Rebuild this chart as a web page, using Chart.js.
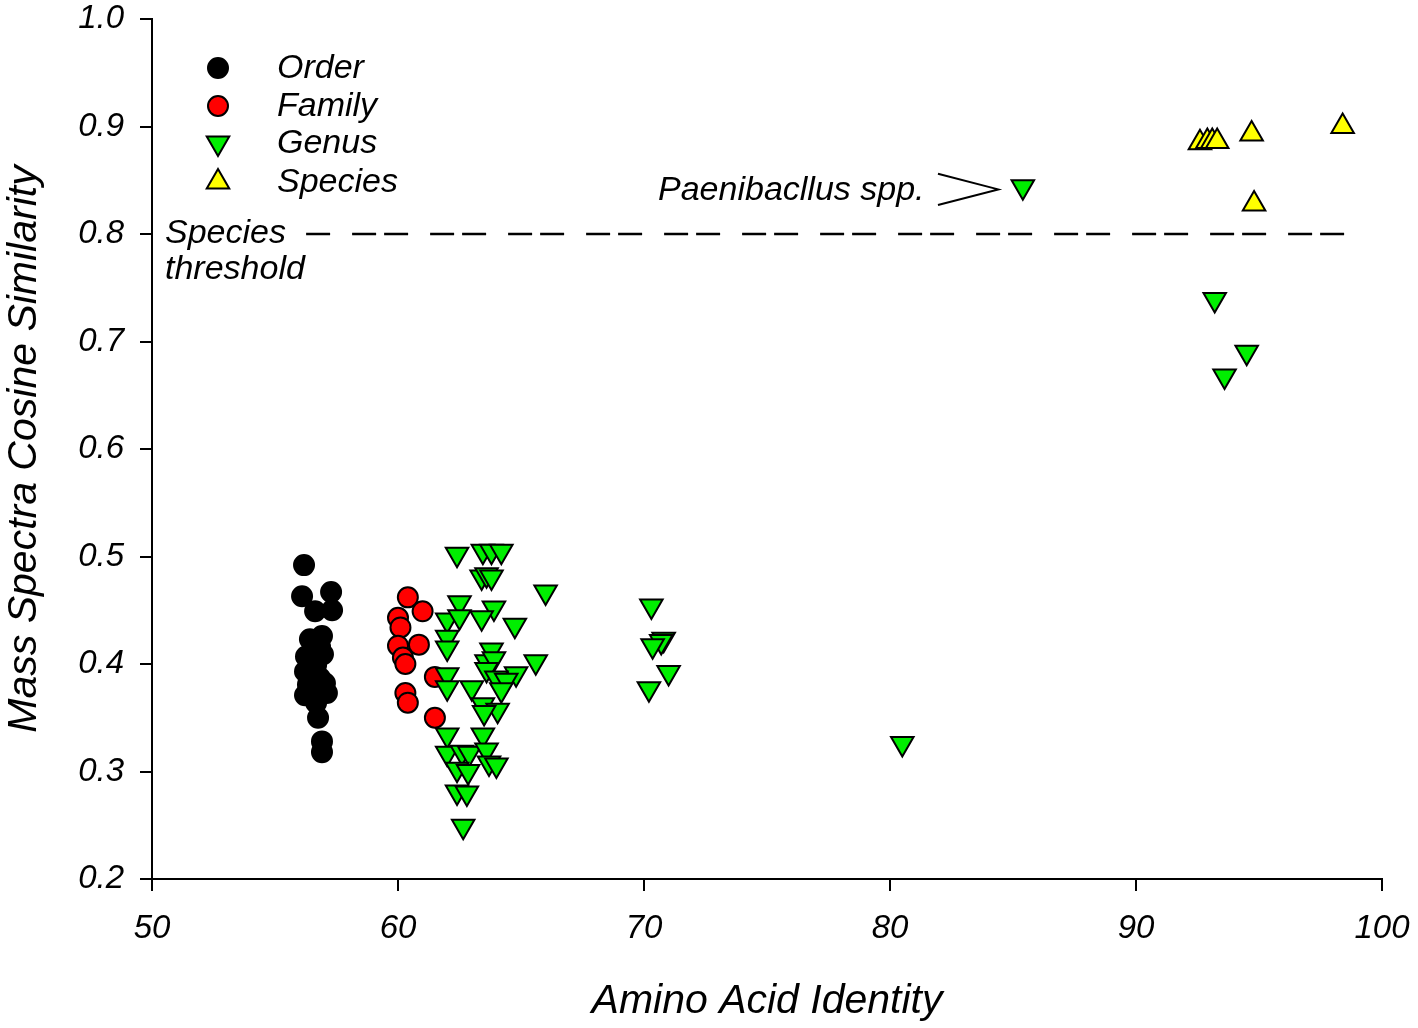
<!DOCTYPE html>
<html lang="en">
<head>
    <meta charset="UTF-8">
    <title>Mass Spectra Cosine Similarity vs Amino Acid Identity</title>
    <style>
        html, body { margin: 0; padding: 0; background: #fff; }
        #wrap { width: 1418px; height: 1028px; }
    </style>
</head>
<body>
<div id="wrap">
    <canvas id="aaiChart" width="1418" height="1028"></canvas>
</div>

<script src="https://cdn.jsdelivr.net/npm/chart.js"></script>
<script>
    // Order (black circles)
    const orderAAI = [56.18, 56.10, 57.28, 57.32, 56.63, 56.91, 56.42, 56.83, 56.95, 56.26, 56.67, 56.22, 56.83,
                      57.03, 56.34, 57.11, 56.22, 56.75, 56.67, 56.75, 56.91, 56.91];
    const orderCos = [0.492, 0.463, 0.467, 0.450, 0.449, 0.426, 0.423, 0.416, 0.409, 0.407, 0.399, 0.393, 0.387,
                      0.382, 0.381, 0.373, 0.371, 0.376, 0.364, 0.350, 0.328, 0.318];

    // Family (red circles)
    const familyAAI = [60.4, 61.0, 60.0, 60.1, 60.0, 60.85, 60.2, 60.3, 61.5, 60.3, 60.4, 61.5];
    const familyCos = [0.462, 0.449, 0.443, 0.434, 0.417, 0.418, 0.406, 0.400, 0.388, 0.373, 0.364, 0.350];

    // Genus (green, down triangles)
    const genusAAI = [62.4, 63.45, 63.8, 64.2, 63.4, 63.6, 63.8, 66.0, 62.5, 63.9, 62.0, 62.5, 63.4, 64.75,
                      62.0, 62.0, 63.8, 63.6, 63.9, 65.6, 63.6, 64.8, 62.0, 64.0, 64.4, 62.0, 63.0, 64.2,
                      63.45, 64.05, 63.5, 62.0, 63.45, 62.0, 62.6, 62.9, 63.6, 63.7, 64.0, 62.4, 62.85,
                      62.4, 62.8, 62.65, 70.3, 70.8, 70.7, 70.35, 71.0, 70.2, 80.5, 85.4, 93.2, 94.5, 93.6];
    const genusCos = [0.502, 0.505, 0.505, 0.505, 0.481, 0.483, 0.481, 0.467, 0.457, 0.452, 0.441, 0.444, 0.443, 0.436,
                      0.425, 0.415, 0.413, 0.402, 0.405, 0.402, 0.395, 0.391, 0.390, 0.387, 0.385, 0.378, 0.378, 0.376,
                      0.362, 0.357, 0.355, 0.334, 0.334, 0.317, 0.318, 0.317, 0.320, 0.308, 0.306, 0.302, 0.300,
                      0.281, 0.280, 0.249, 0.454, 0.423, 0.421, 0.417, 0.392, 0.377, 0.326, 0.844, 0.739, 0.690, 0.668];

    // Species (yellow, up triangles)
    const speciesAAI = [92.6, 92.9, 93.1, 93.3, 94.7, 98.4, 94.8];
    const speciesCos = [0.885, 0.886, 0.886, 0.886, 0.893, 0.900, 0.828];

    // species threshold line (drawn right to left so the dash pattern starts at the right end)
    const thresholdAAI = [98.46, 56.0];
    const thresholdCos = [0.8, 0.8];

    const xTicks = [50, 60, 70, 80, 90, 100];
    const yTicks = [0.2, 0.3, 0.4, 0.5, 0.6, 0.7, 0.8, 0.9, 1.0];

    const FONT = "'Liberation Sans', Arial, sans-serif";

    function pairs(xs, ys) {
        return xs.map((x, i) => ({ x: x, y: ys[i] }));
    }

    const legendItems = [
        { label: 'Order',   pointStyle: 'circle',   rotation: 0,   fill: '#000000', radius: 10 },
        { label: 'Family',  pointStyle: 'circle',   rotation: 0,   fill: '#ff0000', radius: 10 },
        { label: 'Genus',   pointStyle: 'triangle', rotation: 180, fill: '#00ee00', radius: 13 },
        { label: 'Species', pointStyle: 'triangle', rotation: 0,   fill: '#ffff00', radius: 13 }
    ];

    // legend, threshold label and the Paenibacillus arrow
    const annotations = {
        id: 'annotations',
        afterDatasetsDraw(chart) {
            const ctx = chart.ctx;
            const xs = chart.scales.x, ys = chart.scales.y;
            const area = chart.chartArea;
            ctx.save();

            // legend
            const rowY = [68, 106, 143, 182];
            legendItems.forEach((it, i) => {
                ctx.fillStyle = it.fill;
                ctx.strokeStyle = '#000';
                ctx.lineWidth = 2;
                Chart.helpers.drawPoint(ctx, {
                    pointStyle: it.pointStyle, radius: it.radius, rotation: it.rotation, borderWidth: 2
                }, area.left + 66, rowY[i]);
                ctx.fillStyle = '#000';
                ctx.font = 'italic 34px ' + FONT;
                ctx.textAlign = 'left';
                ctx.textBaseline = 'middle';
                ctx.fillText(it.label, area.left + 125, i === 0 ? 69 : rowY[i] + 1);
            });

            // threshold label
            ctx.font = 'italic 34px ' + FONT;
            ctx.textBaseline = 'alphabetic';
            ctx.fillText('Species', area.left + 13, ys.getPixelForValue(0.8) + 9);
            ctx.fillText('threshold', area.left + 13, ys.getPixelForValue(0.8) + 45);

            // Paenibacllus label with open arrow
            ctx.fillText('Paenibacllus spp.', xs.getPixelForValue(70.57), ys.getPixelForValue(0.8415) + 11);
            ctx.strokeStyle = '#000';
            ctx.lineWidth = 2;
            ctx.beginPath();
            ctx.moveTo(xs.getPixelForValue(81.95), ys.getPixelForValue(0.856));
            ctx.lineTo(xs.getPixelForValue(84.4), ys.getPixelForValue(0.8415));
            ctx.lineTo(xs.getPixelForValue(81.95), ys.getPixelForValue(0.827));
            ctx.stroke();

            ctx.restore();
        }
    };

    const ctx = document.getElementById('aaiChart').getContext('2d');

    const aaiChart = new Chart(ctx, {
        type: 'scatter',
        data: {
            datasets: [
                {
                    label: 'Species',
                    data: pairs(speciesAAI, speciesCos),
                    pointStyle: 'triangle',
                    pointRadius: 13,
                    backgroundColor: '#ffff00',
                    borderColor: '#000',
                    borderWidth: 2
                },
                {
                    label: 'Genus',
                    data: pairs(genusAAI, genusCos),
                    pointStyle: 'triangle',
                    pointRotation: 180,
                    pointRadius: 13,
                    backgroundColor: '#00ee00',
                    borderColor: '#000',
                    borderWidth: 2
                },
                {
                    label: 'Family',
                    data: pairs(familyAAI, familyCos),
                    pointStyle: 'circle',
                    pointRadius: 10,
                    backgroundColor: '#ff0000',
                    borderColor: '#000',
                    borderWidth: 2
                },
                {
                    label: 'Order',
                    data: pairs(orderAAI, orderCos),
                    pointStyle: 'circle',
                    pointRadius: 10,
                    backgroundColor: '#000000',
                    borderColor: '#000',
                    borderWidth: 2
                },
                {
                    label: 'Species threshold',
                    data: pairs(thresholdAAI, thresholdCos),
                    showLine: true,
                    pointRadius: 0,
                    borderColor: '#000',
                    borderWidth: 2.5,
                    borderDash: [24, 8, 24, 22]
                }
            ]
        },
        options: {
            responsive: false,
            animation: false,
            devicePixelRatio: 1,
            layout: { padding: { left: 0, right: 36, top: 19, bottom: 0 } },
            plugins: {
                legend: { display: false },
                tooltip: { enabled: false }
            },
            scales: {
                x: {
                    type: 'linear',
                    min: 50,
                    max: 100,
                    afterBuildTicks: (scale) => { scale.ticks = xTicks.map(v => ({ value: v })); },
                    afterFit: (scale) => { scale.height = 149; scale.paddingLeft = 0; scale.paddingRight = 0; },
                    border: { display: true, color: '#000', width: 2 },
                    grid: { drawOnChartArea: false, drawTicks: true, tickLength: 12, lineWidth: 2, color: '#000' },
                    ticks: {
                        color: '#000',
                        padding: 18,
                        maxRotation: 0,
                        font: { family: FONT, size: 33, style: 'italic' }
                    },
                    title: {
                        display: true,
                        text: 'Amino Acid Identity',
                        color: '#000',
                        padding: { top: 0, bottom: 2 },
                        font: { family: FONT, size: 41, style: 'italic' }
                    }
                },
                y: {
                    type: 'linear',
                    min: 0.2,
                    max: 1.0,
                    afterBuildTicks: (scale) => { scale.ticks = yTicks.map(v => ({ value: v })); },
                    afterFit: (scale) => { scale.width = 152; scale.paddingTop = 0; scale.paddingBottom = 0; },
                    border: { display: true, color: '#000', width: 2 },
                    grid: { drawOnChartArea: false, drawTicks: true, tickLength: 12, lineWidth: 2, color: '#000' },
                    ticks: {
                        color: '#000',
                        padding: 16,
                        callback: (v) => v.toFixed(1),
                        font: { family: FONT, size: 33, style: 'italic' }
                    },
                    title: {
                        display: true,
                        text: 'Mass Spectra Cosine Similarity',
                        color: '#000',
                        padding: { top: 0, bottom: 0 },
                        font: { family: FONT, size: 41, style: 'italic' }
                    }
                }
            }
        },
        plugins: [annotations]
    });
</script>
</body>
</html>
